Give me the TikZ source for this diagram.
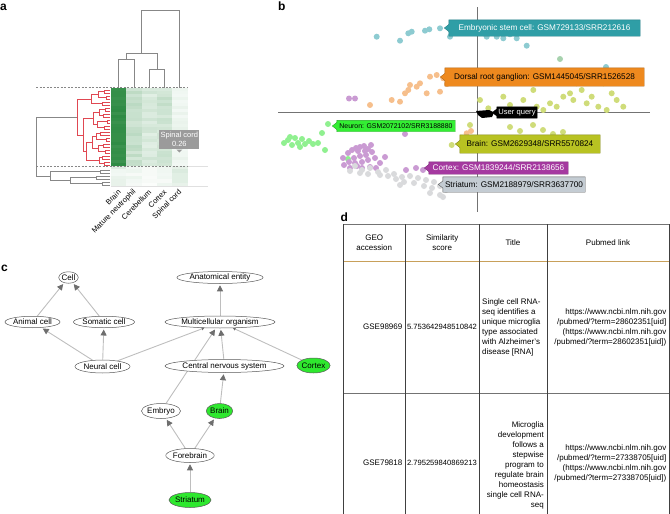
\documentclass[tikz,border=0pt]{standalone}
\usepackage{fontspec}
\setmainfont{Liberation Sans}
\usetikzlibrary{arrows.meta,shapes.geometric,backgrounds}
\definecolor{hmg}{RGB}{44,138,66}
\definecolor{dred}{RGB}{224,72,82}
\definecolor{dgrey}{RGB}{135,135,135}
\definecolor{cteal}{RGB}{47,158,166}
\definecolor{corange}{RGB}{238,137,30}
\definecolor{cneuron}{RGB}{51,238,51}
\definecolor{cbrain}{RGB}{184,194,34}
\definecolor{ccortex}{RGB}{165,57,160}
\definecolor{cstri}{RGB}{196,204,211}
\definecolor{dteal}{RGB}{141,203,209}
\definecolor{dorange}{RGB}{246,191,140}
\definecolor{dpurple}{RGB}{202,155,211}
\definecolor{dgreen}{RGB}{144,240,144}
\definecolor{dyel}{RGB}{207,220,122}
\definecolor{ptgrey}{RGB}{217,218,220}
\definecolor{ngreen}{RGB}{46,232,46}
\definecolor{edgec}{RGB}{190,190,190}
\definecolor{tipc}{RGB}{110,110,110}
\definecolor{hdrline}{RGB}{200,160,90}
\definecolor{tipgray}{RGB}{155,155,155}
\newcommand{\fdef}{\fontsize{8}{10}\selectfont}
\newcommand{\fa}{\fontsize{7.5}{9}\selectfont}
\newcommand{\ftag}{\fontsize{8.2}{10}\selectfont}
\newcommand{\fsm}{\fontsize{6.9}{8}\selectfont}
\newcommand{\fuq}{\fontsize{7.6}{9}\selectfont}
\newcommand{\fnum}{\fontsize{7.6}{10}\selectfont}
\newcommand{\fplab}{\fontsize{12}{14}\selectfont\bfseries}
\newcommand{\dbr}[5]{\draw (#3,#2) -| (#1,#4) -- (#5,#4);}
\newcommand{\tagshape}[3]{\begin{scope}[on background layer]\filldraw[fill=#2, draw=#3, line width=0.4pt] (#1.north west) -- (#1.north east) -- (#1.south east) -- (#1.south west) -- ([yshift=-3.5pt]#1.west) -- ++(-4.5pt,3.5pt) -- ([yshift=3.5pt]#1.west) -- cycle;\end{scope}}
\tikzset{
 hmline/.style={draw=dgrey, line width=0.8pt},
 redline/.style={draw=dred, line width=0.8pt},
 cnode/.style={ellipse, draw=black!65, line width=0.5pt, fill=white, inner sep=0pt, font=\fdef},
 gnode/.style={cnode, fill=ngreen},
 gedge/.style={draw=edgec, line width=0.9pt, shorten >=1.5pt, -{Triangle[length=6pt,width=6pt,color=tipc]}},
 gedgesmall/.style={draw=edgec, line width=0.9pt, -{Triangle[length=2.5pt,width=3pt,color=tipc]}},
 tagbox/.style={rectangle, inner sep=0pt, font=\ftag},
 tline/.style={draw=black!75, line width=0.8pt},
 ttext/.style={inner sep=0pt, font=\fdef},
 plabel/.style={inner sep=0pt, font=\fplab, anchor=base west},
 alabel/.style={inner sep=0pt, font=\fa, rotate=45, anchor=east},
}
\begin{document}
\begin{tikzpicture}[x=1pt,y=-1pt]
\useasboundingbox (0,0) rectangle (670,514);

% ---------------- panel labels
\node[plabel] (la) at (0,10.5) {a};
\node[plabel] (lb) at (278,10) {b};
\node[plabel] (lc) at (1,271.7) {c};
\node[plabel] (ld) at (340.5,221.7) {d};

% ---------------- panel a : heatmap
\pgfmathsetseed{7}
\foreach \b/\v [count=\i from 0] in {96/4,27/6,19/5,24/6,9/3}{
  \foreach \r in {0,...,25}{
    \pgfmathtruncatemacro{\p}{min(100,max(0,\b+\v*rand))}
    \fill[hmg!\p!white] ({111+15.3*\i},{88+3*\r}) rectangle ++(15.3,3);
  }
}
\foreach \b/\v [count=\i from 0] in {12/6,8/4,3/2,6/3,14/5}{
  \foreach \r in {0,...,5}{
    \pgfmathtruncatemacro{\p}{min(100,max(0,\b+\v*rand))}
    \fill[hmg!\p!white] ({111+15.3*\i},{166+3.333*\r}) rectangle ++(15.3,3.333);
  }
}
\draw[dgrey, line width=0.7pt, dash pattern=on 2pt off 1.5pt] (36,87.7) -- (187.5,87.7);
\draw[dgrey, line width=0.7pt, dash pattern=on 2pt off 1.5pt] (36,166) -- (187.5,166);
\draw[black!12, line width=0.6pt] (187.5,166) -- (208,166);
\draw[black!12, line width=0.6pt] (111,186.3) -- (208,186.3);

% column dendrogram
\begin{scope}[hmline]
\draw (118.65,87.7) |- (133.95,59.3) -- (133.95,87.7);
\draw (149.25,87.7) |- (164.55,69) -- (164.55,87.7);
\draw (126.3,59.3) |- (156.9,53.3) -- (156.9,69);
\draw (141.6,53.3) |- (179.85,10) -- (179.85,87.7);
\end{scope}

% row dendrogram (red)
\begin{scope}[redline]
\dbr{104}{90}{110}{93}{110}
\dbr{106}{96}{110}{99}{110}
\dbr{102}{102}{110}{105}{110}
\dbr{105}{108}{110}{111}{110}
\dbr{103}{114}{110}{117}{110}
\dbr{107}{120}{110}{123}{110}
\dbr{104}{126}{110}{129}{110}
\dbr{100}{132}{110}{135}{110}
\dbr{106}{138}{110}{141}{110}
\dbr{103}{144}{110}{147}{110}
\dbr{105}{150}{110}{153}{110}
\dbr{102}{156}{110}{159}{110}
\dbr{104}{162}{110}{165}{110}
\dbr{98}{91.5}{104}{97.5}{106}
\dbr{91}{94.5}{98}{103.5}{102}
\dbr{99}{109.5}{105}{115.5}{103}
\dbr{97}{121.5}{107}{127.5}{104}
\dbr{96}{133.5}{100}{139.5}{106}
\dbr{98}{145.5}{103}{151.5}{105}
\dbr{99}{157.5}{102}{163.5}{104}
\dbr{93}{112.5}{99}{124.5}{97}
\dbr{92}{136.5}{96}{148.5}{98}
\dbr{86}{142.5}{92}{160.5}{99}
\dbr{83}{118.5}{93}{151.5}{86}
\dbr{77}{99}{91}{135}{83}
\end{scope}
% row dendrogram (grey)
\begin{scope}[hmline]
\dbr{100}{170}{110}{173}{110}
\dbr{96}{176}{110}{179}{110}
\dbr{102}{182}{110}{185}{110}
\dbr{70}{177.5}{96}{183.5}{102}
\dbr{50}{171.5}{100}{180.5}{70}
\dbr{36}{117}{77}{176}{50}
\end{scope}

% tooltip
\node[fill=tipgray, text=white, font=\fa, align=center, minimum width=40pt, minimum height=19.3pt, inner sep=0pt] (tip) at (179.3,139.7) {Spinal cord\\0.26};
\fill[tipgray] ([xshift=-3pt]tip.south) -- ++(3pt,-3pt) -- ([xshift=3pt]tip.south) -- cycle;

% column labels
\node[alabel] (cl1) at (119.5,191) {Brain};
\node[alabel] (cl2) at (134.8,191) {Mature neutrophil};
\node[alabel] (cl3) at (150.1,191) {Cerebellum};
\node[alabel] (cl4) at (165.4,191) {Cortex};
\node[alabel] (cl5) at (180.7,191) {Spinal cord};

% ---------------- panel b
\begin{scope}[on background layer]
\draw[black!55, line width=0.5pt] (477.7,7) -- (477.7,212);
\draw[black!55, line width=0.5pt] (278,112.7) -- (650,112.7);
\foreach \x/\y in {376.7/36.7,400/40.7,408.3/33.3,411.7/31.7,425/30.7,429.3/29.3,440/28.3,450/36.7,452.7/33.3,470/31.7,483.3/33.3,486.7/36.7,496.7/36.7,503.3/38.3,510/34.3,516.7/38.3,526.7/45.7,606/67}
  \fill[dteal] (\x,\y) circle (3pt);
\foreach \x/\y in {370/105,391.7/100,400/101.7,405/93.3,408.3/90,410/85,416.7/86.7,420/83.3,426.7/93.3,430/76.7,436.7/75,440/91.7,443.3/78.3,447/84,452/80,466.7/133.3,471/131}
  \fill[dorange] (\x,\y) circle (3pt);
\foreach \x/\y in {480/100,488.3/108.3,503.3/96.7,510/105,523.3/100,533.3/90,536.7/106.7,543.3/110,550/103.3,556.7/106.7,563.3/96.7,570/93.3,573.3/100,576.7/83.3,581.7/90,586.7/103.3,591.7/96.7,598.3/106.7,603.3/83.3,606.7/110,611.7/93.3,616.7/100,623.3/106.7,510/127,533/125,543/130,563/132,553/134,470/125,451.7/145,520/131}
  \fill[dyel] (\x,\y) circle (3pt);
\fill[dteal!60!dyel] (560,59) circle (3pt);
\foreach \x/\y in {328/124,322/133,288/140,292/145,295/138,298/143,302/139,305/144,309/141,313/144,318/143,325/150,348/159,284/143,300/147,290/137}
  \fill[dgreen] (\x,\y) circle (3pt);
\foreach \x/\y in {349/98.5,355/98.5,405/134,343/158,348/153,352/150,356/148,360/147,364/146,368/149,372/152,366/155,360/156,354/158,349/162,355/163,362/162,368/160,375/158,380/163,376/168,370/167,362/168,357/166,344/165,350/168,358/151,371/145,365/151,385/157,406/170,416/168,423/170}
  \fill[dpurple] (\x,\y) circle (3pt);
\foreach \x/\y in {355/166,362/170,370/168,378/172,386/170,394/174,402/177,410/176,418/178,426/180,434/182,440/186,446/190,440/195,443/197,432/188,424/186,414/183,404/182,396/179,388/176,380/175,368/174,360/173,350/171,400/185,430/193}
  \fill[ptgrey] (\x,\y) circle (3pt);
\fill[black] (476,111) -- (489,110) -- (494,112.5) -- (492,117) -- (482,118) -- (478,115) -- cycle;
\end{scope}

\node[tagbox, text=white, minimum width=191pt, minimum height=16pt] (tesc) at (544.5,28) {Embryonic stem cell: GSM729133/SRR212616};
\tagshape{tesc}{cteal}{cteal!80!black}
\node[tagbox, text=black, minimum width=199pt, minimum height=18pt] (tdrg) at (544.5,77) {Dorsal root ganglion: GSM1445045/SRR1526528};
\tagshape{tdrg}{corange}{corange!75!black}
\node[tagbox, font=\fuq, text=white, minimum width=40pt, minimum height=11pt] (tuq) at (517,112.5) {User query};
\tagshape{tuq}{black}{black}
\node[tagbox, font=\fsm, text=black, minimum width=118pt, minimum height=11pt] (tneu) at (396,126) {Neuron: GSM2072102/SRR3188880};
\tagshape{tneu}{cneuron}{cneuron!70!black}
\node[tagbox, text=black, minimum width=140pt, minimum height=18pt] (tbra) at (530,144) {Brain: GSM2629348/SRR5570824};
\tagshape{tbra}{cbrain}{cbrain!70!black}
\node[tagbox, text=white, minimum width=139pt, minimum height=12pt] (tcor) at (498.5,168) {Cortex: GSM1839244/SRR2138656};
\tagshape{tcor}{ccortex}{ccortex!75!black}
\node[tagbox, text=black, minimum width=142pt, minimum height=15pt] (tstr) at (514,184.5) {Striatum: GSM2188979/SRR3637700};
\tagshape{tstr}{cstri}{black!65}

% ---------------- panel c
\node[cnode, minimum width=18pt, minimum height=11.5pt] (cell) at (68.5,277.5) {Cell};
\node[cnode, minimum width=86pt, minimum height=12pt] (anat) at (220,277.5) {Anatomical entity};
\node[cnode, minimum width=55pt, minimum height=11.5pt] (animal) at (32.5,322) {Animal cell};
\node[cnode, minimum width=52pt, minimum height=11.5pt] (somatic) at (104,322) {Somatic cell};
\node[cnode, minimum width=110pt, minimum height=12pt] (multi) at (220,322) {Multicellular organism};
\node[cnode, minimum width=55pt, minimum height=13pt] (neural) at (102.5,366.5) {Neural cell};
\node[cnode, minimum width=109pt, minimum height=13pt] (cns) at (224.5,366) {Central nervous system};
\node[gnode, minimum width=29pt, minimum height=15pt] (cortex) at (313.5,365.5) {Cortex};
\node[cnode, minimum width=30pt, minimum height=15pt] (embryo) at (161,411) {Embryo};
\node[gnode, minimum width=25pt, minimum height=15pt] (brain) at (219.5,411) {Brain};
\node[cnode, minimum width=46pt, minimum height=14pt] (fore) at (190,455.5) {Forebrain};
\node[gnode, minimum width=40pt, minimum height=15pt] (stri) at (190,500) {Striatum};
\begin{scope}[on background layer]
\draw[gedge] (animal) -- (cell);
\draw[gedge] (somatic) -- (cell);
\draw[gedge] (neural) -- (animal);
\draw[gedge] (neural) -- (somatic);
\draw[gedgesmall] (neural) -- (multi);
\draw[gedge] (embryo) -- (multi);
\draw[gedge] (cns) -- (multi);
\draw[gedgesmall] (cortex) -- (multi);
\draw[gedge] (multi) -- (anat);
\draw[gedge] (brain) -- (cns);
\draw[gedge] (fore) -- (embryo);
\draw[gedge] (fore) -- (brain);
\draw[gedge] (stri) -- (fore);
\end{scope}

% ---------------- panel d : table
\draw[black!55, line width=0.8pt] (343,224) -- (669,224);
\draw[hdrline, line width=0.8pt] (343,261) -- (669,261);
\draw[black!55, line width=0.8pt] (343,393) -- (669,393);
\foreach \x in {343,405.5,479,547,669}
  \draw[tline] (\x,224) -- (\x,514);
\node[ttext, align=center] (h1) at (374.25,242.5) {GEO\\accession};
\node[ttext, align=center] (h2) at (442.25,242.5) {Similarity\\score};
\node[ttext, align=center] (h3) at (513,242.5) {Title};
\node[ttext, align=center] (h4) at (608,242.5) {Pubmed link};
\node[ttext, anchor=east] (g1) at (402.5,327) {GSE98969};
\node[ttext, font=\fnum, anchor=west] (s1) at (406.8,327) {5.753642948510842};
\node[ttext, anchor=west, align=left] (t1) at (482,327) {Single cell RNA-\\seq identifies a\\unique microglia\\type associated\\with Alzheimer's\\disease [RNA]};
\node[ttext, anchor=east, align=right] (p1) at (666.5,327) {https://www.ncbi.nlm.nih.gov\\/pubmed/?term=28602351[uid]\\(https://www.ncbi.nlm.nih.gov\\/pubmed/?term=28602351[uid])};
\node[ttext, anchor=east] (g2) at (402.5,463) {GSE79818};
\node[ttext, font=\fnum, anchor=west] (s2) at (406.8,463) {2.795259840869213};
\node[ttext, anchor=east, align=right] (t2) at (544,465) {Microglia\\development\\follows a\\stepwise\\program to\\regulate brain\\homeostasis\\single cell RNA-\\seq};
\node[ttext, anchor=east, align=right] (p2) at (666.5,463) {https://www.ncbi.nlm.nih.gov\\/pubmed/?term=27338705[uid]\\(https://www.ncbi.nlm.nih.gov\\/pubmed/?term=27338705[uid])};
\end{tikzpicture}
\end{document}
